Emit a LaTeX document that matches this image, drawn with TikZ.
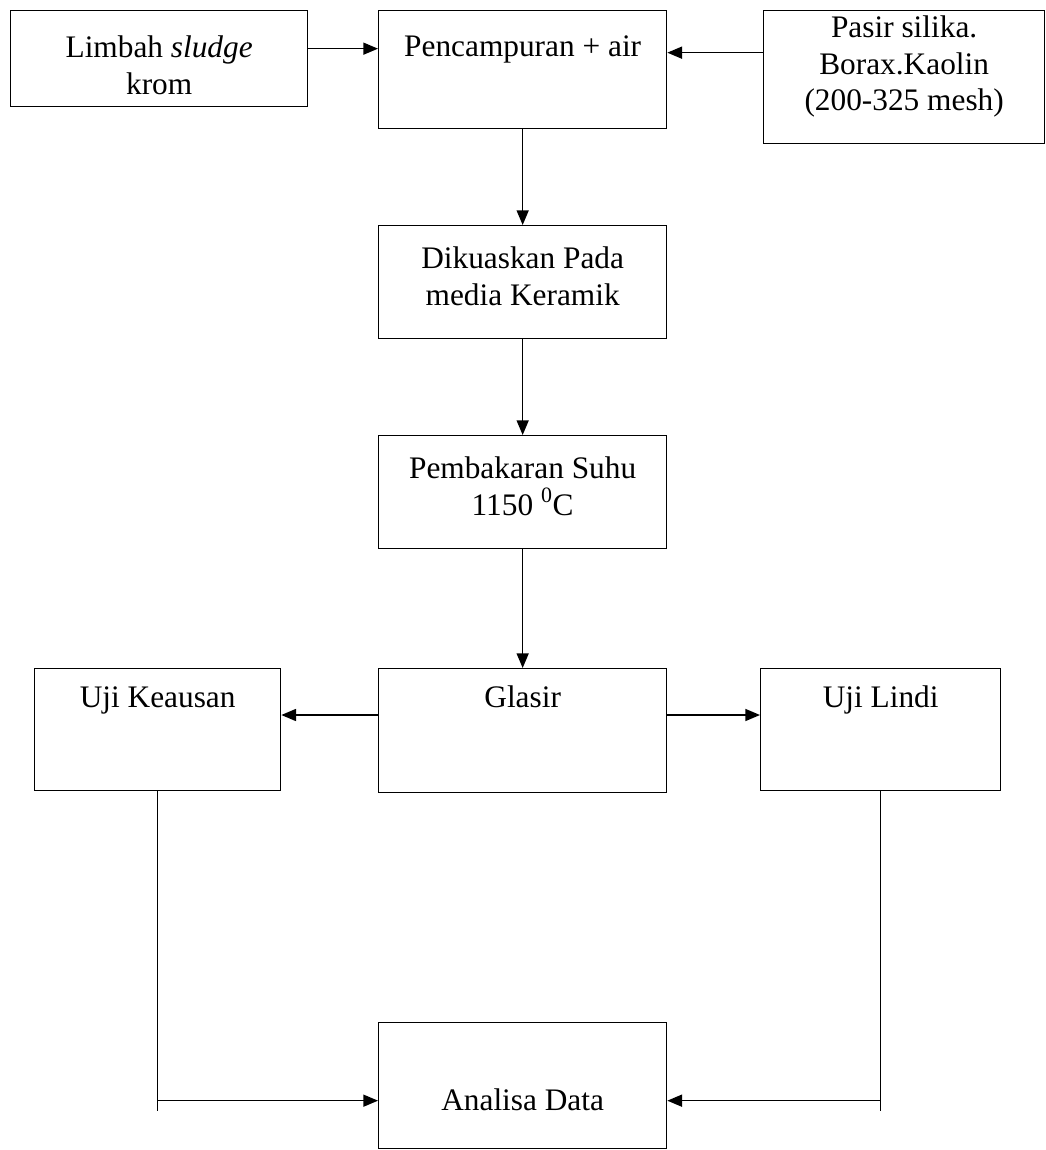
\documentclass[tikz,border=0pt]{standalone}
\usepackage{fontspec}
\setmainfont{Liberation Serif}
\usetikzlibrary{arrows.meta,calc}
\newcommand{\bxt}[4]{\parbox[c][#1][t]{#2}{\fontsize{23.5pt}{27.5pt}\selectfont\centering\rule{0pt}{#3}#4\par}}
\tikzset{
  box/.style={draw, line width=1pt, inner sep=0pt, anchor=north west},
  arr/.style={line width=1.1pt, -{Triangle[length=11pt,width=9pt]}},
  ln/.style={line width=1.1pt}
}
\begin{document}
\begin{tikzpicture}[x=0.75pt,y=-0.75pt]
\useasboundingbox[fill=white] (0,0) rectangle (1046,1150);
\node[box] (lim) at (10,10) {\bxt{72pt}{222.75pt}{35pt}{Limbah \textit{sludge}\\krom}};
\node[box] (pen) at (378,10) {\bxt{88.5pt}{216pt}{34pt}{Pencampuran + air}};
\node[box] (pas) at (763,10) {\bxt{99.75pt}{210.75pt}{20pt}{Pasir silika.\\Borax.Kaolin\\(200-325 mesh)}};
\node[box] (dik) at (378,225) {\bxt{84.75pt}{216pt}{32pt}{Dikuaskan Pada\\media Keramik}};
\node[box] (pem) at (378,435) {\bxt{84.75pt}{216pt}{32pt}{Pembakaran Suhu\\1150~\textsuperscript{0}C}};
\node[box] (kea) at (34,668) {\bxt{91.5pt}{184.5pt}{29pt}{Uji Keausan}};
\node[box] (gla) at (378,668) {\bxt{93pt}{216pt}{29pt}{Glasir}};
\node[box] (lin) at (760,668) {\bxt{91.5pt}{180pt}{29pt}{Uji Lindi}};
\node[box] (ana) at (378,1022) {\bxt{94.5pt}{216pt}{66pt}{Analisa Data}};
% top row
\draw[arr] ([yshift=-29pt]lim.north east) -- ([yshift=-29pt]lim.north east -| pen.west);
\draw[arr] ([yshift=-32pt]pas.north west) -- ([yshift=-32pt]pas.north west -| pen.east);
% vertical chain
\draw[arr] (pen.south) -- (dik.north);
\draw[arr] (dik.south) -- (pem.north);
\draw[arr] (pem.south) -- (gla.north);
% glasir to tests
\draw[arr] ([yshift=-35.25pt]gla.north west) -- ([yshift=-35.25pt]gla.north west -| kea.east);
\draw[arr] ([yshift=-35.25pt]gla.north east) -- ([yshift=-35.25pt]gla.north east -| lin.west);
% tests to analisa
\coordinate (kb) at ([yshift=-11.25pt]ana.west -| kea.south);
\coordinate (lb) at ([yshift=-11.25pt]ana.east -| lin.south);
\draw[ln] (kea.south) -- ([yshift=-8pt]kb);
\draw[arr] (kb) -- ([yshift=-11.25pt]ana.west);
\draw[ln] (lin.south) -- ([yshift=-8pt]lb);
\draw[arr] (lb) -- ([yshift=-11.25pt]ana.east);
\end{tikzpicture}
\end{document}
